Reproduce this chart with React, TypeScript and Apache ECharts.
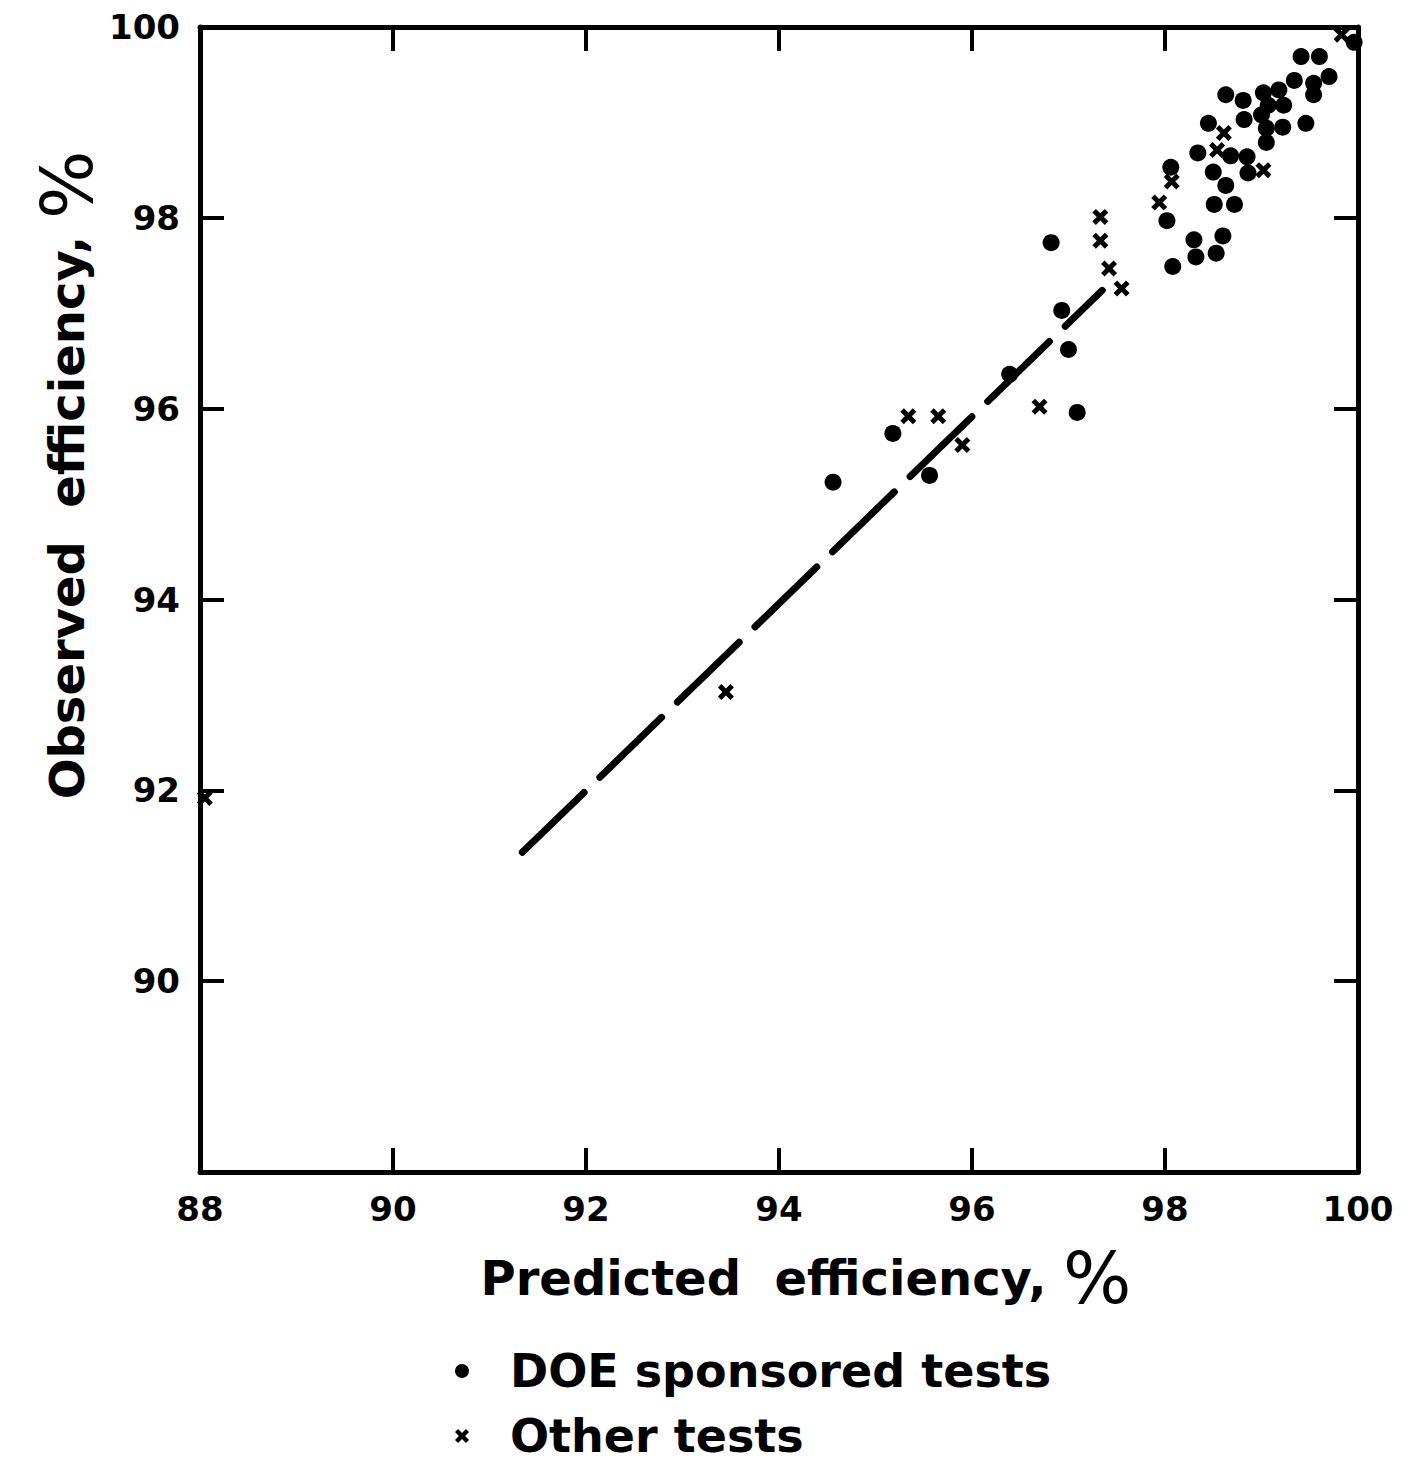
import React, { useEffect, useRef } from "react";
import * as echarts from "echarts";

// ---- Data ----
const doePredicted = [
  94.56, 95.18, 95.56, 96.39, 96.82, 96.93, 97.0, 97.09, 98.02, 98.06, 98.08, 98.3, 98.32, 98.6, 98.53,
  98.51, 98.72, 98.63, 98.5, 98.34, 98.68, 98.85, 98.86, 98.45, 98.63, 98.81, 98.82, 99.02, 99.0, 99.05,
  99.05, 99.18, 99.23, 99.22, 99.34, 99.41, 99.6, 99.7, 99.54, 99.54, 99.46, 99.07, 99.96,
];
const doeObserved = [
  95.23, 95.74, 95.3, 96.36, 97.74, 97.03, 96.62, 95.96, 97.97, 98.53, 97.49, 97.77, 97.59, 97.81, 97.63,
  98.14, 98.14, 98.34, 98.48, 98.68, 98.65, 98.64, 98.47, 98.99, 99.29, 99.23, 99.03, 99.31, 99.08, 98.94,
  98.79, 99.34, 99.18, 98.95, 99.44, 99.69, 99.69, 99.48, 99.41, 99.29, 98.99, 99.18, 99.84,
];
const otherPredicted = [
  88.05, 93.45, 95.34, 95.65, 95.9, 96.7, 97.33, 97.33, 97.42, 97.55, 97.94, 98.07, 98.54, 98.61, 99.02, 99.83,
];
const otherObserved = [
  91.92, 93.03, 95.92, 95.92, 95.62, 96.02, 98.01, 97.76, 97.47, 97.26, 98.16, 98.38, 98.71, 98.89, 98.5, 99.92,
];
const fitPredicted = [91.34, 97.35];
const fitObserved = [91.35, 97.24];
const axisTicks = [88, 90, 92, 94, 96, 98, 100];
const seriesNames = ["DOE sponsored tests", "Other tests"];
const xTitle = "Predicted  efficiency, ";
const yTitle = "Observed  efficiency, ";
const percentSign = "%";

const FONT = "DejaVu Sans";
const CROSS =
  "path://M0,2.2L2.2,0L5,2.8L7.8,0L10,2.2L7.2,5L10,7.8L7.8,10L5,7.2L2.2,10L0,7.8L2.8,5Z";

function makeAxis(position: string, showLabels: boolean, hideMin: boolean) {
  return {
    type: "value",
    position,
    min: axisTicks[0],
    max: axisTicks[axisTicks.length - 1],
    interval: axisTicks[1] - axisTicks[0],
    axisLine: { show: true, onZero: false, lineStyle: { color: "#000", width: 5 } },
    axisTick: { show: true, inside: true, length: 24, lineStyle: { color: "#000", width: 4 } },
    splitLine: { show: false },
    axisLabel: {
      show: showLabels,
      showMinLabel: !hideMin,
      color: "#000",
      fontFamily: FONT,
      fontWeight: "bold",
      fontSize: 34,
      margin: 20,
    },
  };
}

function makeLegend(name: string, icon: string, top: number) {
  return {
    orient: "vertical",
    left: 455,
    top,
    padding: 0,
    itemWidth: 66,
    itemHeight: 14,
    selectedMode: false,
    data: [{ name, icon }],
    textStyle: {
      fontFamily: FONT,
      fontWeight: "bold",
      fontSize: 46,
      color: "#000",
      lineHeight: 44,
      padding: [0, 0, 0, 10],
    },
  };
}

export default function App() {
  const ref = useRef<HTMLDivElement>(null);

  useEffect(() => {
    if (!ref.current) return;
    const chart = echarts.init(ref.current, null, { renderer: "svg" });
    const titleRich = {
      a: { fontFamily: FONT, fontWeight: "bold", fontSize: 48, fill: "#000" },
      b: { fontFamily: FONT, fontWeight: "normal", fontSize: 72, fill: "#000" },
    };
    chart.setOption({
      animation: false,
      backgroundColor: "#fff",
      grid: { left: 200, right: 56, top: 27, bottom: 294, containLabel: false },
      xAxis: [makeAxis("bottom", true, false), makeAxis("top", false, false)],
      yAxis: [makeAxis("left", true, true), makeAxis("right", false, false)],
      legend: [
        makeLegend(seriesNames[0], "circle", 1348),
        makeLegend(seriesNames[1], CROSS, 1413),
      ],
      graphic: [
        {
          type: "text",
          x: 806,
          y: 1278,
          style: {
            text: "{a|" + xTitle + "}{b|" + percentSign + "}",
            rich: titleRich,
            align: "center",
            verticalAlign: "middle",
          },
        },
        {
          type: "text",
          x: 67,
          y: 475,
          rotation: Math.PI / 2,
          style: {
            text: "{a|" + yTitle + "}{b|" + percentSign + "}",
            rich: titleRich,
            align: "center",
            verticalAlign: "middle",
          },
        },
      ],
      series: [
        {
          name: "fit",
          type: "line",
          data: fitPredicted.map((x, i) => [x, fitObserved[i]]),
          symbol: "none",
          silent: true,
          z: 1,
          lineStyle: { color: "#000", width: 7, type: [86, 22], cap: "round" },
        },
        {
          name: seriesNames[0],
          type: "scatter",
          data: doePredicted.map((x, i) => [x, doeObserved[i]]),
          symbol: "circle",
          symbolSize: 17,
          itemStyle: { color: "#000", opacity: 1 },
          z: 3,
        },
        {
          name: seriesNames[1],
          type: "scatter",
          data: otherPredicted.map((x, i) => [x, otherObserved[i]]),
          symbol: CROSS,
          symbolSize: 16,
          itemStyle: { color: "#000", opacity: 1 },
          z: 3,
        },
      ],
    });
    return () => chart.dispose();
  }, []);

  return (
    <div
      ref={ref}
      style={{ position: "absolute", left: 0, top: 0, width: 1414, height: 1466, background: "#fff" }}
    />
  );
}
